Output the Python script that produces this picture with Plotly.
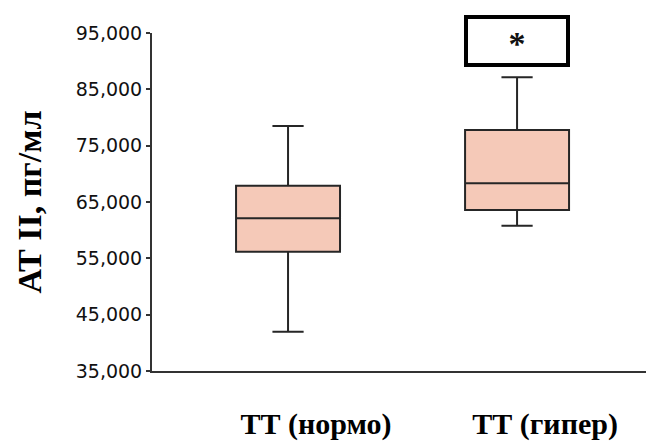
import plotly.graph_objects as go

categories = ["ТТ (нормо)", "ТТ (гипер)"]
lower_whisker = [41970, 60790]
q1_values = [56170, 63580]
median_values = [62100, 68320]
q3_values = [67890, 77780]
upper_whisker = [78490, 87140]
y_ticks = [35000, 45000, 55000, 65000, 75000, 85000, 95000]
y_tick_text = ["35,000", "45,000", "55,000", "65,000", "75,000", "85,000", "95,000"]
signif_label = "*"

fig = go.Figure()
fig.add_trace(go.Box(
    x=[0, 1],
    q1=q1_values, median=median_values, q3=q3_values,
    lowerfence=lower_whisker, upperfence=upper_whisker,
    width=0.454, whiskerwidth=0.3,
    fillcolor="#f5c9b8",
    line=dict(color="#262626", width=2),
    boxpoints=False, showlegend=False, hoverinfo="skip",
))

fig.add_annotation(
    x=1, xref="x", y=0.976, yref="paper", yanchor="middle", xanchor="center",
    text="<b>" + signif_label + "</b>", showarrow=False,
    font=dict(family="Liberation Serif", size=34, color="#111"),
    width=96, height=42, borderwidth=4, borderpad=1,
    bordercolor="#000", bgcolor="#fff", valign="bottom",
)

fig.update_layout(
    width=646, height=444,
    margin=dict(l=152, r=0, t=33, b=73),
    plot_bgcolor="#fff", paper_bgcolor="#fff",
    xaxis=dict(
        range=[-0.594, 1.563], tickvals=[0, 1], ticktext=categories,
        showline=True, linecolor="#333", linewidth=2, ticks="",
        showgrid=False, zeroline=False, fixedrange=True,
        tickfont=dict(family="Liberation Serif", size=30, color="#000", weight="bold"),
        ticklabelshift=28, ticklabelstandoff=25,
    ),
    yaxis=dict(
        range=[35000, 95000], tickvals=y_ticks, ticktext=y_tick_text,
        showline=True, linecolor="#333", linewidth=2,
        ticks="outside", ticklen=4, tickwidth=1.5, tickcolor="#333",
        showgrid=False, zeroline=False,
        tickfont=dict(family="DejaVu Sans", size=19, color="#111"),
        title=dict(text="АТ II, пг/мл", standoff=24,
                   font=dict(family="Liberation Serif", size=34, color="#000", weight="bold")),
    ),
)

fig.write_html("out.html")
